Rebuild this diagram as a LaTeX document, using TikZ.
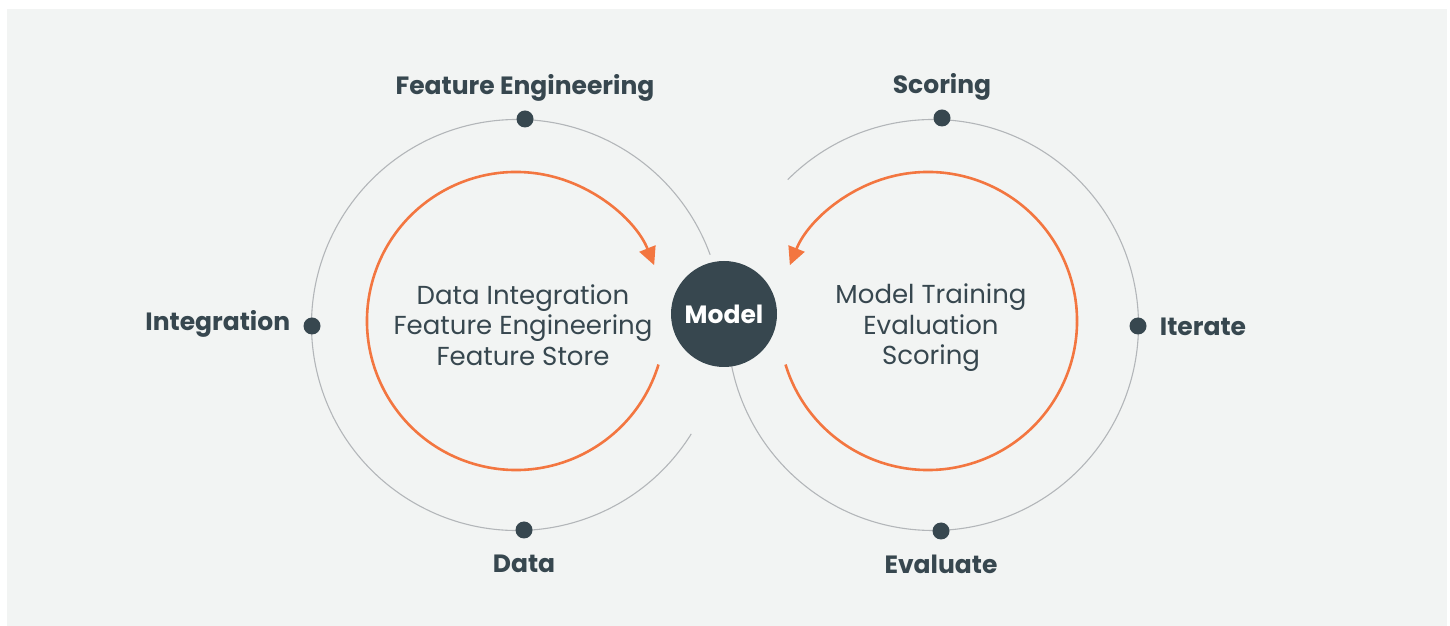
\documentclass[tikz,border=0pt]{standalone}
\usepackage{fontspec}
\setmainfont{Poppins}
\usetikzlibrary{arrows.meta,positioning}
\definecolor{panel}{HTML}{F2F4F3}
\definecolor{slate}{HTML}{37474F}
\definecolor{carrot}{HTML}{F37640}
\definecolor{ringgray}{HTML}{B3B6B9}

\begin{document}
\begin{tikzpicture}[x=1pt,y=1pt,
	dot/.style={circle,fill=slate,inner sep=0pt,minimum size=17pt},
	lbl/.style={text=slate,inner sep=2pt,font=\fontsize{25}{30}\selectfont\bfseries},
	steps/.style={text=slate,align=center,font=\fontsize{26}{30.5}\selectfont},
	ring/.style={draw=ringgray,line width=1.1pt},
	flow/.style={draw=carrot,line width=2.6pt,-{Triangle[length=18pt,width=17pt]}}]
	\useasboundingbox (0,0) rectangle (1450,626);
	\fill[panel] (7,0) rectangle (1447,617);
	% outer rings, open where they meet the model
	\draw[ring] (517,301) ++(328:205.5) arc[start angle=328,end angle=20,radius=205.5];
	\draw[ring] (933,301) ++(135:205.5) arc[start angle=135,end angle=-170,radius=205.5];
	% inner cycles
	\draw[flow] (516,305) ++(-17:149) arc[start angle=-17,end angle=-338,radius=149];
	\draw[flow] (928,305) ++(197:149) arc[start angle=197,end angle=518,radius=149];
	\node[circle,fill=slate,minimum size=106pt,inner sep=0pt,text=white,font=\fontsize{25}{30}\selectfont\bfseries](model) at (724,312) {Model};
	% stages on the left ring
	\node[dot](feat) at (525,507) {};
	\node[dot](integ) at (312,300) {};
	\node[dot](data) at (524,96) {};
	\node[lbl,above=7pt of feat](featlbl) {Feature Engineering};
	\node[lbl,left=11pt of integ,yshift=2pt](integlbl) {Integration};
	\node[lbl,below=14pt of data](datalbl) {Data};
	% stages on the right ring
	\node[dot](score) at (942,508) {};
	\node[dot](iter) at (1138,300) {};
	\node[dot](eval) at (941,95) {};
	\node[lbl,above=7pt of score](scorelbl) {Scoring};
	\node[lbl,right=11pt of iter,yshift=-1pt](iterlbl) {Iterate};
	\node[lbl,below=13pt of eval](evallbl) {Evaluate};
	% what happens in each loop
	\node[steps](left) at (523,301) {Data Integration\\Feature Engineering\\Feature Store};
	\node[steps](right) at (931,298) {Model Training\\Evaluation\\Scoring};
\end{tikzpicture}
\end{document}
